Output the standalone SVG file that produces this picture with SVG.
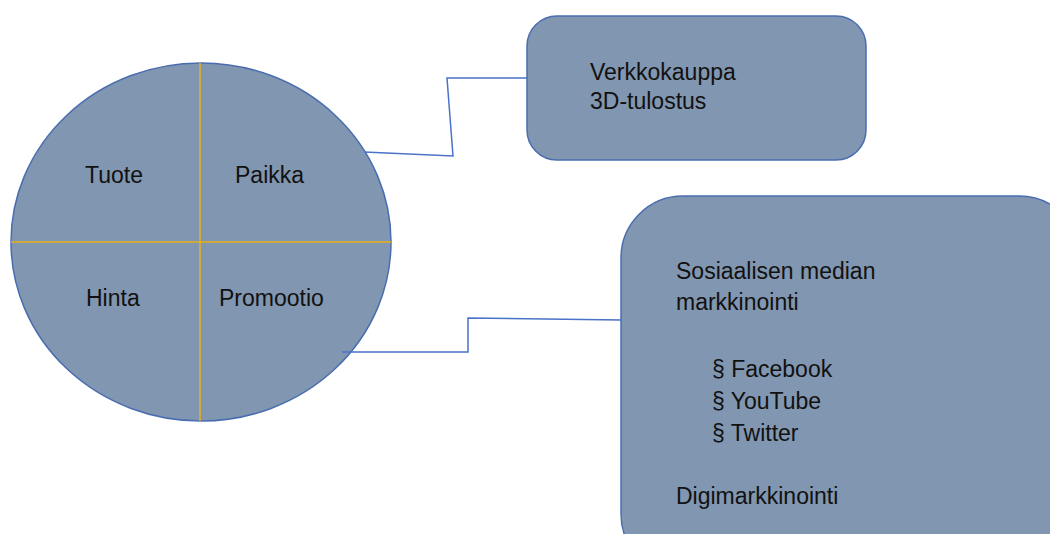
<svg xmlns="http://www.w3.org/2000/svg" width="1050" height="534" viewBox="0 0 1050 534">
<style>
.shape{fill:#8196b0;stroke:#4a6db0;stroke-width:1.5}
.div{stroke:#e8b118;stroke-width:1.5;fill:none}
.conn{stroke:#4a72c8;stroke-width:1.5;fill:none}
text{font-family:"Liberation Sans",Arial,sans-serif;font-size:23px;fill:#111}
</style>
<rect width="1050" height="534" fill="#fff"/>
<g id="circle">
<ellipse class="shape" cx="201" cy="242" rx="190" ry="179"/>
<line class="div" x1="200" y1="63" x2="200" y2="421"/>
<line class="div" x1="11" y1="242" x2="391" y2="242"/>
<text x="85" y="183">Tuote</text>
<text x="235" y="183">Paikka</text>
<text x="86" y="306">Hinta</text>
<text x="219" y="306">Promootio</text>
</g>
<g id="box-paikka">
<rect class="shape" x="527" y="16" width="339" height="144" rx="30"/>
<text x="590" y="80">Verkkokauppa</text>
<text x="590" y="109">3D-tulostus</text>
</g>
<g id="box-promootio">
<rect class="shape" x="621" y="196" width="460" height="380" rx="62"/>
<text x="676" y="279">Sosiaalisen median</text>
<text x="676" y="310">markkinointi</text>
<text x="712" y="377">§ Facebook</text>
<text x="712" y="409">§ YouTube</text>
<text x="712" y="441">§ Twitter</text>
<text x="676" y="504">Digimarkkinointi</text>
</g>
<g id="connectors">
<polyline class="conn" points="364,152 453,156 447,78 527,78"/>
<polyline class="conn" points="342,352 468,352 468,318 621,320"/>
</g>
</svg>
